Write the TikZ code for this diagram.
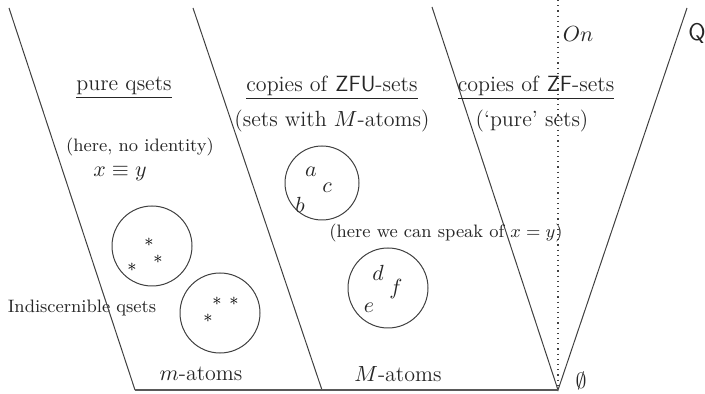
\documentclass[tikz,border=0pt]{standalone}
\usepackage{amssymb}
\begin{document}
\begin{tikzpicture}[x=0.5pt,y=-0.5pt,
  bound/.style={line width=0.5pt,draw=black!75},
  setc/.style={circle,draw=black!75,line width=0.5pt,inner sep=0pt,minimum size=#1},
  lbl/.style={inner sep=0pt,text=black!85,font=\fontsize{11}{13}\selectfont},
  sm/.style={inner sep=0pt,text=black!85,font=\fontsize{9}{11}\selectfont},
  star/.style={inner sep=0pt,font=\small}]
\useasboundingbox (0,0) rectangle (705,394);
% boundary points
\coordinate (t1) at (9,8);
\coordinate (b1) at (135,390);
\coordinate (t2) at (193,8);
\coordinate (b2) at (322,390);
\coordinate (t3) at (432,7);
\coordinate (v) at (558,390);
\coordinate (t4) at (687,8);
\coordinate (dtop) at (558,0);
\draw[bound] (t1) -- (b1);
\draw[bound] (t2) -- (b2);
\draw[bound] (t3) -- (v) -- (t4);
\draw[line width=1pt,draw=black!65] (b1) -- (v);
\draw[dotted,line width=0.6pt,draw=black!75] (dtop) -- (v);
% labels
\node[lbl] (on) at (578,34) {$On$};
\node[lbl,font=\sffamily\large,anchor=west] (q) at (688,33) {Q};
\node[lbl] (empty) at (581,381) {$\emptyset$};
\node[lbl] (pq) at (124,88) {\underline{pure qsets}};
\node[lbl] (zfu) at (332,88) {\underline{copies of \textsf{ZFU}-sets}};
\node[lbl] (zfua) at (332,121) {(sets with $M$-atoms)};
\node[lbl] (zf) at (536,88) {\underline{copies of \textsf{ZF}-sets}};
\node[lbl] (zfa) at (532,121) {(`pure' sets)};
\node[sm] (noid) at (140,147) {(here, no identity)};
\node[lbl] (xy) at (120,174) {$x\equiv y$};
\node[sm] (speak) at (446,233) {(here we can speak of $x=y$)};
\node[sm] (ind) at (82,308) {Indiscernible qsets};
\node[lbl] (ma) at (201,374) {$m$-atoms};
\node[lbl] (Ma) at (398,374) {$M$-atoms};
% circles
\node[setc=37pt] (c1) at (322,183) {};
\node[lbl] (a) at (311,172) {$a$};
\node[lbl] (c) at (327,188) {$c$};
\node[lbl] (b) at (300,205) {$b$};
\node[setc=40pt] (c2) at (388,288) {};
\node[lbl] (d) at (378,273) {$d$};
\node[lbl] (f) at (396,289) {$f$};
\node[lbl] (e) at (369,308) {$e$};
\node[setc=40pt] (c3) at (152,246) {};
\node[star] (s1) at (149,242) {$*$};
\node[star] (s2) at (158,259) {$*$};
\node[star] (s3) at (132,267) {$*$};
\node[setc=40pt] (c4) at (220,313) {};
\node[star] (s4) at (217,301) {$*$};
\node[star] (s5) at (234,301) {$*$};
\node[star] (s6) at (208,318) {$*$};
\end{tikzpicture}
\end{document}
